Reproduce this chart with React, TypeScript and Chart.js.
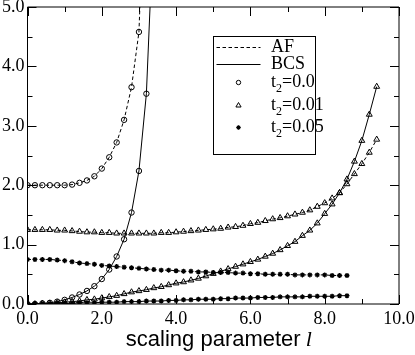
import React, { useEffect, useRef } from 'react';
import { Chart, registerables } from 'chart.js';

Chart.register(...registerables);

// scaling parameter l (x values)
const L_VALUES = [
  0.0, 0.2, 0.4, 0.6, 0.8, 1.0, 1.2, 1.4, 1.6, 1.8,
  2.0, 2.2, 2.4, 2.6, 2.8, 3.0, 3.2, 3.4, 3.6, 3.8,
  4.0, 4.2, 4.4, 4.6, 4.8, 5.0, 5.2, 5.4, 5.6, 5.8,
  6.0, 6.2, 6.4, 6.6, 6.8, 7.0, 7.2, 7.4, 7.6, 7.8,
  8.0, 8.2, 8.4, 8.6, 8.8, 9.0, 9.2, 9.4,
];

// t2 = 0.0
const AF_T0 = [2.0, 2.0, 2.0, 2.0, 2.0, 2.0, 2.01, 2.04, 2.08, 2.15, 2.28, 2.47, 2.72, 3.1, 3.65, 4.58, 8.0];
const BCS_T0 = [0.0, 0.0, 0.01, 0.02, 0.04, 0.07, 0.11, 0.16, 0.22, 0.3, 0.42, 0.58, 0.8, 1.09, 1.54, 2.24, 3.54, 6.5];

// t2 = 0.01
const AF_T001 = [
  1.25, 1.25, 1.25, 1.25, 1.24, 1.24, 1.23, 1.22, 1.21, 1.21,
  1.2, 1.2, 1.19, 1.19, 1.19, 1.19, 1.19, 1.19, 1.2, 1.2,
  1.21, 1.22, 1.23, 1.24, 1.25, 1.26, 1.27, 1.29, 1.3, 1.32,
  1.35, 1.37, 1.4, 1.43, 1.45, 1.48, 1.51, 1.54, 1.58, 1.64,
  1.7, 1.78, 1.87, 2.02, 2.19, 2.36, 2.55, 2.77,
];
const BCS_T001 = [
  0.0, 0.0, 0.01, 0.01, 0.02, 0.03, 0.04, 0.05, 0.07, 0.08,
  0.1, 0.12, 0.14, 0.17, 0.2, 0.22, 0.24, 0.27, 0.29, 0.32,
  0.35, 0.37, 0.4, 0.43, 0.47, 0.51, 0.55, 0.59, 0.63, 0.67,
  0.71, 0.75, 0.8, 0.85, 0.91, 0.98, 1.05, 1.15, 1.24, 1.36,
  1.52, 1.68, 1.87, 2.1, 2.4, 2.75, 3.19, 3.66,
];

// t2 = 0.05
const AF_T005 = [
  0.75, 0.75, 0.75, 0.75, 0.74, 0.73, 0.71, 0.69, 0.68, 0.67,
  0.65, 0.64, 0.63, 0.62, 0.61, 0.6, 0.59, 0.58, 0.57, 0.57,
  0.56, 0.55, 0.55, 0.54, 0.54, 0.53, 0.53, 0.53, 0.52, 0.52,
  0.51, 0.51, 0.5, 0.5, 0.5, 0.5, 0.49, 0.49, 0.49, 0.49,
  0.49, 0.48, 0.48, 0.48,
];
const BCS_T005 = [
  0.0, 0.0, 0.0, 0.0, 0.01, 0.01, 0.01, 0.02, 0.02, 0.02,
  0.03, 0.03, 0.03, 0.04, 0.04, 0.04, 0.05, 0.05, 0.05, 0.06,
  0.06, 0.07, 0.07, 0.08, 0.08, 0.08, 0.09, 0.09, 0.1, 0.1,
  0.1, 0.11, 0.11, 0.11, 0.12, 0.12, 0.12, 0.12, 0.13, 0.13,
  0.13, 0.13, 0.14, 0.14,
];

const X_TICK_LABELS = ['0.0', '2.0', '4.0', '6.0', '8.0', '10.0'];
const Y_TICK_LABELS = ['0.0', '1.0', '2.0', '3.0', '4.0', '5.0'];
const X_TICK_MARKS = [0, 1, 2, 3, 4, 5, 6, 7, 8, 9, 10];
const Y_TICK_MARKS = [0, 0.5, 1, 1.5, 2, 2.5, 3, 3.5, 4, 4.5, 5];
const X_TITLE = 'scaling parameter';
const X_TITLE_VAR = 'l';

const LEGEND_ITEMS = [
  { main: 'AF', sub: '', rest: '', symbol: 'dashed' },
  { main: 'BCS', sub: '', rest: '', symbol: 'solid' },
  { main: 't', sub: '2', rest: '=0.0', symbol: 'circle' },
  { main: 't', sub: '2', rest: '=0.01', symbol: 'triangle' },
  { main: 't', sub: '2', rest: '=0.05', symbol: 'star' },
];

const SERIF = "'Liberation Serif', 'Times New Roman', 'DejaVu Serif', serif";
const SANS = "'Liberation Sans', Arial, 'DejaVu Sans', sans-serif";
const DASH = [3.5, 2.5];

const toPoints = (ys: number[]) => ys.map((y, i) => ({ x: L_VALUES[i], y }));

const framePlugin = {
  id: 'frameTicks',
  afterDatasetsDraw(chart: any) {
    const { ctx, chartArea, scales } = chart;
    const { left, right, top, bottom } = chartArea;
    const x = scales.x;
    const y = scales.y;
    ctx.save();
    ctx.strokeStyle = '#000';
    ctx.lineWidth = 1;
    ctx.beginPath();
    ctx.moveTo(left, top);
    ctx.lineTo(right, top);
    ctx.lineTo(right, bottom);
    ctx.lineTo(left, bottom);
    ctx.closePath();
    ctx.stroke();
    ctx.beginPath();
    X_TICK_MARKS.forEach((v) => {
      const px = Math.round(x.getPixelForValue(v)) + 0.5;
      const len = v % 2 === 0 ? 9 : 5;
      ctx.moveTo(px, bottom);
      ctx.lineTo(px, bottom - len);
      ctx.moveTo(px, top);
      ctx.lineTo(px, top + len);
    });
    Y_TICK_MARKS.forEach((v) => {
      const py = Math.round(y.getPixelForValue(v)) + 0.5;
      const len = v % 1 === 0 ? 9 : 5;
      ctx.moveTo(left, py);
      ctx.lineTo(left + len, py);
      ctx.moveTo(right, py);
      ctx.lineTo(right - len, py);
    });
    ctx.stroke();
    ctx.restore();
  },
};

const titleVarPlugin = {
  id: 'titleVar',
  afterDraw(chart: any) {
    const { ctx, chartArea } = chart;
    const x = chart.scales.x;
    const tOpts = x.options.title;
    const size = tOpts.font.size;
    const lineHeight = size * 1.2;
    const titleY = x.bottom - lineHeight / 2 - tOpts.padding.bottom;
    ctx.save();
    ctx.font = `${size}px ${SANS}`;
    const w = ctx.measureText(X_TITLE).width;
    const center = (chartArea.left + chartArea.right) / 2;
    ctx.font = `italic ${size}px ${SERIF}`;
    ctx.fillStyle = '#000';
    ctx.textBaseline = 'middle';
    ctx.textAlign = 'left';
    ctx.fillText(X_TITLE_VAR, center + w / 2 + 5, titleY);
    ctx.restore();
  },
};

const legendPlugin = {
  id: 'boxLegend',
  afterDraw(chart: any) {
    const { ctx } = chart;
    const bx = 213.5;
    const by = 36.5;
    const bw = 102;
    const bh = 118;
    const baselines = [15, 32, 50, 73.5, 95];
    ctx.save();
    ctx.fillStyle = '#fff';
    ctx.fillRect(bx, by, bw, bh);
    ctx.strokeStyle = '#000';
    ctx.lineWidth = 1;
    ctx.strokeRect(bx, by, bw, bh);
    LEGEND_ITEMS.forEach((it, i) => {
      const base = by + baselines[i];
      const sy = Math.round(base - 5) + 0.5;
      const cx = bx + 25;
      ctx.strokeStyle = '#000';
      ctx.fillStyle = '#000';
      ctx.lineWidth = 1;
      ctx.setLineDash([]);
      ctx.beginPath();
      if (it.symbol === 'dashed' || it.symbol === 'solid') {
        if (it.symbol === 'dashed') ctx.setLineDash(DASH);
        ctx.moveTo(bx + 3, sy);
        ctx.lineTo(bx + 47, sy);
        ctx.stroke();
        ctx.setLineDash([]);
      } else if (it.symbol === 'circle') {
        ctx.arc(cx, sy, 2.2, 0, Math.PI * 2);
        ctx.stroke();
      } else if (it.symbol === 'triangle') {
        const r = 3;
        ctx.moveTo(cx, sy - r);
        ctx.lineTo(cx + r * 0.866, sy + r * 0.5);
        ctx.lineTo(cx - r * 0.866, sy + r * 0.5);
        ctx.closePath();
        ctx.stroke();
      } else if (it.symbol === 'star') {
        const r = 2.3;
        ctx.lineWidth = 1.2;
        for (let k = 0; k < 4; k++) {
          const a = (k * Math.PI) / 4;
          ctx.moveTo(cx - r * Math.cos(a), sy - r * Math.sin(a));
          ctx.lineTo(cx + r * Math.cos(a), sy + r * Math.sin(a));
        }
        ctx.stroke();
      }
      const tx = bx + 57.5;
      ctx.textBaseline = 'alphabetic';
      ctx.textAlign = 'left';
      ctx.font = `18px ${SERIF}`;
      ctx.fillText(it.main, tx, base);
      let cur = tx + ctx.measureText(it.main).width;
      if (it.sub) {
        ctx.font = `12px ${SERIF}`;
        ctx.fillText(it.sub, cur, base + 5);
        cur += ctx.measureText(it.sub).width;
        ctx.font = `18px ${SERIF}`;
        ctx.fillText(it.rest, cur, base);
      }
    });
    ctx.restore();
  },
};

const baseDataset = {
  borderColor: '#000',
  borderWidth: 1,
  pointBorderColor: '#000',
  pointBackgroundColor: 'rgba(0,0,0,0)',
  pointBorderWidth: 1,
  tension: 0,
  fill: false,
};

export default function App() {
  const canvasRef = useRef<HTMLCanvasElement | null>(null);

  useEffect(() => {
    if (!canvasRef.current) return;
    const chart = new Chart(canvasRef.current, {
      type: 'line',
      data: {
        datasets: [
          { ...baseDataset, label: 'AF t2=0.0', data: toPoints(AF_T0), borderDash: DASH, pointStyle: 'circle', pointRadius: 2.7 },
          { ...baseDataset, label: 'BCS t2=0.0', data: toPoints(BCS_T0), pointStyle: 'circle', pointRadius: 2.7 },
          { ...baseDataset, label: 'AF t2=0.01', data: toPoints(AF_T001), borderDash: DASH, pointStyle: 'triangle', pointRadius: 3.4 },
          { ...baseDataset, label: 'BCS t2=0.01', data: toPoints(BCS_T001), pointStyle: 'triangle', pointRadius: 3.4 },
          { ...baseDataset, label: 'AF t2=0.05', data: toPoints(AF_T005), borderDash: DASH, pointStyle: 'star', pointRadius: 2.5, pointBorderWidth: 1.3 },
          { ...baseDataset, label: 'BCS t2=0.05', data: toPoints(BCS_T005), pointStyle: 'star', pointRadius: 2.5, pointBorderWidth: 1.3 },
        ],
      },
      options: {
        animation: false,
        responsive: false,
        events: [],
        layout: { padding: { top: 7, right: 16, left: 0, bottom: 0 } },
        plugins: {
          legend: { display: false },
          tooltip: { enabled: false },
        },
        scales: {
          x: {
            type: 'linear',
            min: 0,
            max: 10,
            grid: { display: false, drawTicks: false },
            border: { display: false },
            ticks: {
              stepSize: 2,
              padding: 4,
              color: '#000',
              font: { family: SERIF, size: 18 },
              autoSkip: false,
              maxRotation: 0,
              callback: (_v: any, i: number) => X_TICK_LABELS[i] ?? '',
            },
            title: {
              display: true,
              text: X_TITLE,
              color: '#000',
              font: { family: SANS, size: 22 },
              padding: { top: 0, bottom: 2 },
            },
            afterFit: (s: any) => {
              s.height = 51;
              s.paddingLeft = 0;
              s.paddingRight = 0;
            },
          },
          y: {
            type: 'linear',
            min: 0,
            max: 5,
            grid: { display: false, drawTicks: false },
            border: { display: false },
            ticks: {
              stepSize: 1,
              padding: 3,
              color: '#000',
              font: { family: SERIF, size: 18 },
              autoSkip: false,
              callback: (_v: any, i: number) => Y_TICK_LABELS[i] ?? '',
            },
            afterFit: (s: any) => {
              s.width = 27.5;
              s.paddingTop = 0;
              s.paddingBottom = 0;
            },
          },
        },
      },
      plugins: [framePlugin, titleVarPlugin, legendPlugin],
    });
    return () => chart.destroy();
  }, []);

  return (
    <div style={{ position: 'fixed', left: 0, top: 0, width: 415, height: 355, background: '#fff' }}>
      <canvas ref={canvasRef} width={415} height={355} style={{ display: 'block' }} />
    </div>
  );
}
